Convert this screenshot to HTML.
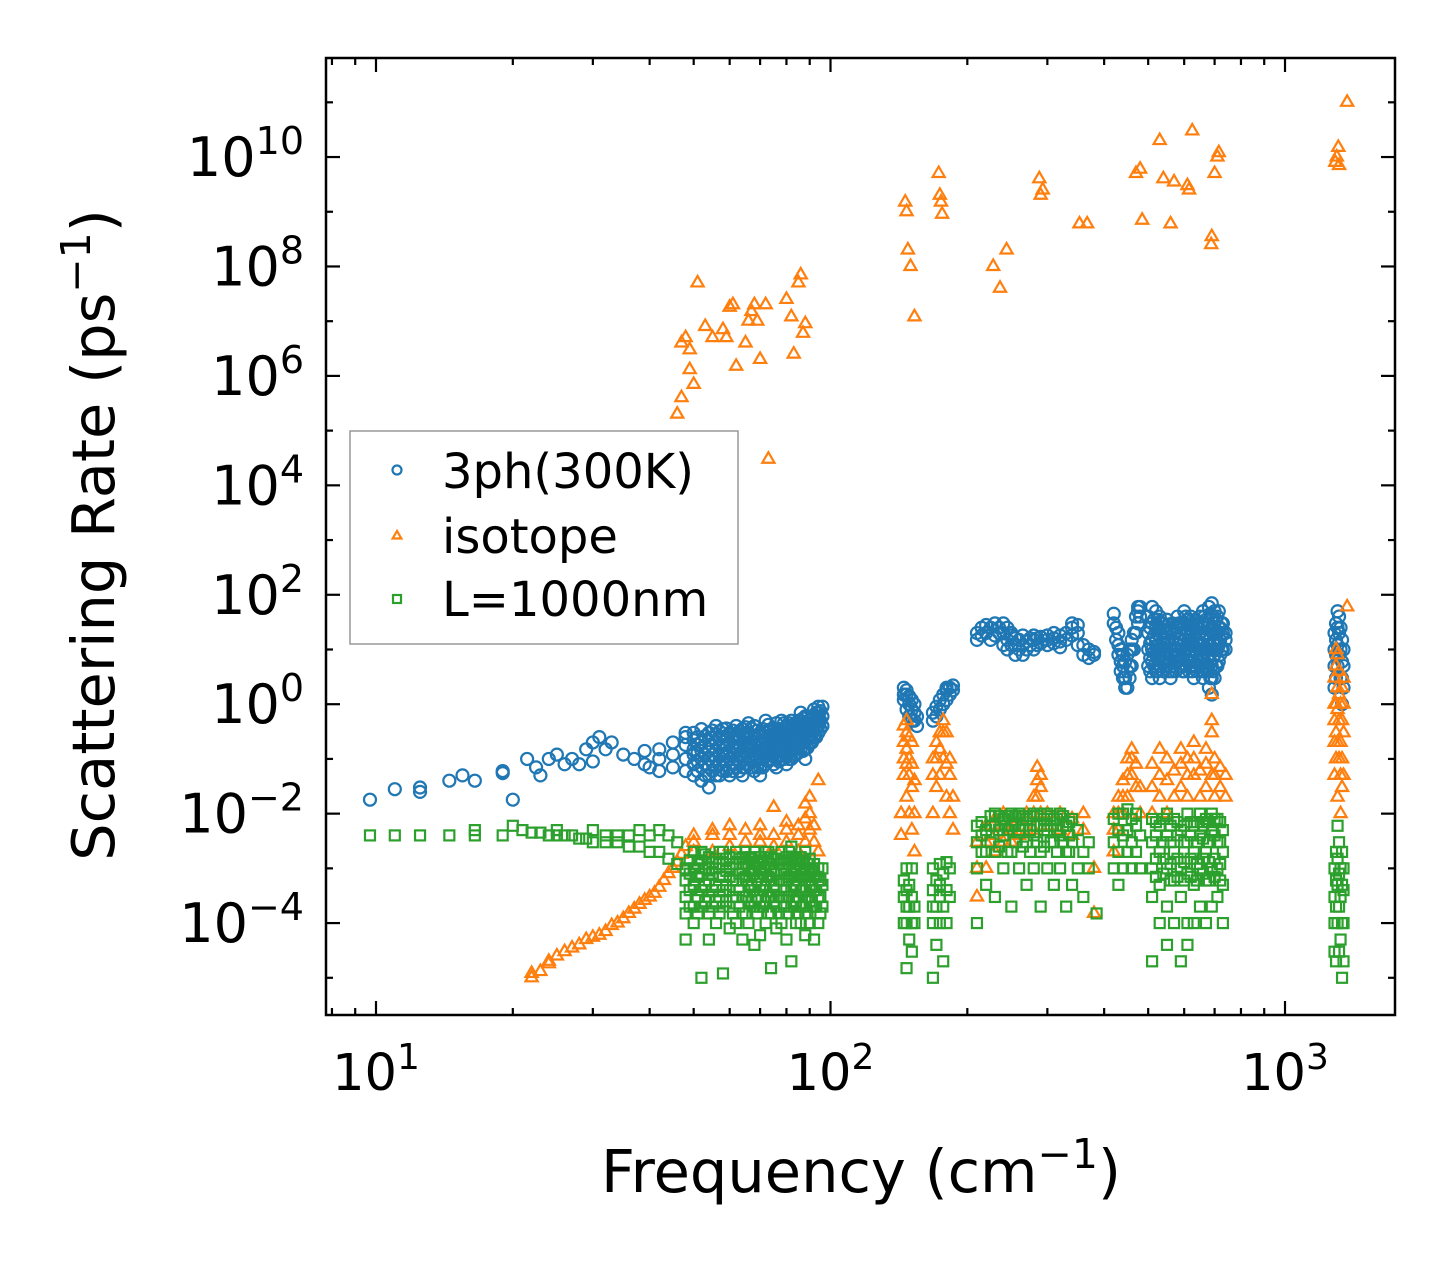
<!DOCTYPE html>
<html><head><meta charset="utf-8"><style>
html,body{margin:0;padding:0;background:#fff;}
svg{display:block;font-family:"DejaVu Sans","Liberation Sans",sans-serif;}
</style></head><body>
<svg id="chart" width="1455" height="1265" viewBox="0 0 1455 1265" xmlns="http://www.w3.org/2000/svg">
<rect x="0" y="0" width="1455" height="1265" fill="#fff"/>
<g id="marks"></g>
<g id="axes"></g>
<text x="861" y="1192" font-size="59" text-anchor="middle">Frequency (cm<tspan dy="-24" font-size="41">−1</tspan><tspan dy="24">)</tspan></text>
<text transform="translate(114,535) rotate(-90)" font-size="59" text-anchor="middle">Scattering Rate (ps<tspan dy="-24" font-size="41">−1</tspan><tspan dy="24">)</tspan></text>
<g>
<rect x="350" y="431" width="388" height="213" fill="#fff" stroke="#999" stroke-width="1.5"/>
<g id="legmarks"></g>
<text x="442" y="488" font-size="48">3ph(300K)</text>
<text x="442" y="553" font-size="48">isotope</text>
<text x="442" y="616" font-size="48">L=1000nm</text>
</g>
</svg>
<script>
const threePh=[[9.7,[0.018]],[11,[0.028]],[12.5,[0.03,0.025]],[14.5,[0.04]],[15.5,[0.05]],[16.5,[0.04]],[19,[0.06,0.055]],[20,[0.018]],[21.5,[0.1]],[22.5,[0.07]],[23,[0.05]],[24,[0.1]],[25,[0.12]],[26,[0.08]],[27,[0.1]],[28,[0.08]],[29,[0.15]],[30,[0.2,0.09]],[31,[0.25]],[32,[0.15]],[33,[0.2]],[35,[0.12]],[37,[0.1]],[39,[0.08,0.14]],[40,[0.07]],
[42,[0.06,0.1,0.15]],[45,[0.07,0.12,0.2]],[48,[0.06,0.1,0.18,0.25,0.3]],[50,[0.05,0.08,0.12,0.15,0.22,0.3]],[52,[0.04,0.07,0.1,0.14,0.2,0.35]],[54,[0.03,0.05,0.07,0.1,0.15,0.22,0.3]],[56,[0.05,0.07,0.1,0.14,0.2,0.28,0.4]],[58,[0.06,0.09,0.12,0.18,0.25,0.35]],[60,[0.05,0.07,0.1,0.14,0.2,0.3]],[62,[0.07,0.1,0.15,0.2,0.25,0.4]],[64,[0.05,0.07,0.1,0.14,0.2,0.28,0.35]],[66,[0.08,0.11,0.15,0.2,0.3,0.45]],[68,[0.06,0.09,0.12,0.18,0.25,0.4]],[70,[0.05,0.07,0.1,0.14,0.2,0.3]],[72,[0.08,0.11,0.15,0.22,0.3,0.5]],[74,[0.1,0.14,0.2,0.28,0.35]],[76,[0.07,0.1,0.15,0.22,0.3,0.45]],[78,[0.1,0.14,0.2,0.3,0.5]],[80,[0.08,0.11,0.15,0.2,0.25,0.4]],[82,[0.1,0.14,0.2,0.28,0.35,0.5]],[84,[0.12,0.18,0.25,0.32,0.4]],[86,[0.15,0.2,0.3,0.4,0.5,0.7]],[88,[0.1,0.15,0.2,0.3,0.4,0.6]],[90,[0.2,0.28,0.35,0.5]],[92,[0.25,0.32,0.4,0.6,0.8]],[94,[0.3,0.4,0.5,0.7,0.9]],[96,[0.4,0.6,0.9]],
[51,[0.06,0.09,0.13,0.18,0.25]],[53,[0.05,0.08,0.12,0.17,0.26]],[55,[0.06,0.09,0.12,0.17,0.24,0.33]],[57,[0.05,0.08,0.11,0.16,0.23,0.32]],[59,[0.06,0.09,0.13,0.18,0.26,0.36]],[61,[0.06,0.08,0.12,0.17,0.24,0.33]],[63,[0.06,0.09,0.12,0.17,0.23,0.32]],[65,[0.07,0.1,0.13,0.18,0.26,0.38]],[67,[0.07,0.1,0.14,0.19,0.27,0.36]],[69,[0.07,0.1,0.13,0.17,0.23,0.33]],[71,[0.07,0.1,0.13,0.18,0.25,0.35]],[73,[0.09,0.12,0.17,0.24,0.33,0.42]],[75,[0.08,0.12,0.17,0.25,0.33]],[77,[0.09,0.12,0.17,0.25,0.35]],[79,[0.1,0.13,0.18,0.25,0.35,0.45]],[81,[0.1,0.13,0.18,0.24,0.32,0.45]],[83,[0.11,0.16,0.22,0.3,0.42]],[85,[0.13,0.18,0.25,0.35,0.5]],[87,[0.14,0.2,0.27,0.38,0.55]],[89,[0.16,0.23,0.3,0.45,0.6]],[91,[0.2,0.28,0.38,0.55]],[93,[0.25,0.35,0.5,0.7]],[95,[0.35,0.5,0.75]],
[145,[1.2,2,1.5]],[147,[0.8,1.5,1.8]],[149,[0.6,1,1.4]],[151,[0.5,0.8,1.2]],[153,[0.5,0.7,1]],[155,[0.4,0.6]],
[168,[0.5,0.7]],[171,[0.6,0.9]],[174,[0.8,1.2]],[177,[1,1.5]],[180,[1.2,1.8,2]],[183,[1.5,2]],[186,[1.8,2.2]],
[210,[15,20]],[215,[18,25]],[220,[20,28]],[225,[15,25]],[230,[18,30]],[235,[20,25]],[240,[12,20,30]],[245,[10,15,25]],[250,[12,18,20]],[255,[8,12,16]],[260,[10,15]],[265,[8,12,18]],[270,[10,14]],[275,[12,16]],[280,[10,15,18]],[285,[12,16]],[290,[13,17]],[300,[12,15,18]],[310,[13,16,20]],[320,[11,14,18]],[330,[15,20]],[340,[18,25,30]],[350,[12,20,28]],[360,[8,12]],[370,[7,10]],[380,[8,9]],
[420,[30,45]],[425,[15,25]],[430,[8,12,20]],[435,[4,6,10]],[440,[3,5,8]],[445,[2,3,6]],[450,[2,4,8]],[455,[3,5,10]],[460,[5,10,15]],[465,[10,20]],[470,[20,40]],[475,[30,50,60]],[480,[40,60]],
[500,[5,10,20,40]],[510,[3,6,10,15,30,60]],[520,[4,8,15,25,50]],[530,[3,5,10,18,25,40]],[540,[4,8,15,30]],[550,[5,10,20,35]],[560,[3,6,12,25]],[570,[5,10,20]],[580,[6,12,25,40]],[590,[5,10,20,30]],[600,[4,8,15,30,50]],[610,[6,12,20,35]],[620,[5,10,20,40]],[630,[3,6,12,25]],[640,[4,8,15,30]],[650,[5,10,20,40]],[660,[3,7,15,30,50]],[670,[5,10,20,35]],[680,[2,4,8,15,30,60]],[690,[1.5,3,5,10,25,70]],[700,[3,8,15,30,50]],[710,[5,10,20,40]],[720,[8,15,25]],[730,[10,20,30]],[740,[10,15,20]],
[505,[4,7,13,25]],[515,[5,9,18,35]],[525,[4,7,12,22,35]],[535,[6,11,20,30]],[545,[5,7,12,22]],[555,[4,7,14,28]],[565,[4,8,15,30]],[575,[4,7,13,25]],[585,[5,8,16,30]],[595,[4,7,12,25]],[605,[5,10,18,40]],[615,[4,8,15,28]],[625,[4,7,14,30]],[635,[5,9,18,35]],[645,[6,12,25]],[655,[4,7,13,28]],[665,[5,9,18,40]],[675,[4,7,12,25]],[685,[3,6,12,22,45]],[695,[4,7,13,20,40]],[705,[5,10,20,35]],[715,[6,12,25,50]],[725,[10,18,30]],
[1285,[2,5,10,20]],[1295,[3,8,15,30]],[1305,[5,12,25,50]],[1315,[8,20,40]],[1325,[3,10,25]],[1335,[1,3,6,15]],[1345,[2,5,10]]];

const isotope=[[46,[2e5]],[47,[4e5,4e6]],[48,[5e6]],[49,[3e6,1.3e6]],[50,[7e5]],[51,[5e7]],[53,[8e6]],[55,[5e6]],[58,[7e6]],[59,[5e6]],[60,[1.8e7]],[61,[2e7]],[62,[1.5e6]],[65,[4e6]],[66,[1e7]],[67,[1.5e7]],[68,[2e7]],[69,[1e7]],[70,[2e6]],[72,[2e7]],[73,[3e4]],[80,[2.5e7]],[82,[1.2e7]],[83,[2.5e6]],[85,[5e7]],[86,[7e7]],[87,[6e6]],[88,[9e6]],[146,[1.5e9]],[147,[1e9]],[148,[2e8]],[150,[1e8]],[153,[1.2e7]],[173,[5e9]],[174,[2e9]],[175,[1.5e9]],[176,[9e8]],[228,[1e8]],[236,[4e7]],[244,[2e8]],[288,[4e9]],[290,[2e9]],[293,[2.5e9]],[353,[6e8]],[367,[6e8]],[470,[5e9]],[480,[6e9]],[485,[7e8]],[530,[2e10]],[540,[4e9]],[560,[6e8]],[570,[3.5e9]],[610,[3e9]],[615,[2.5e9]],[625,[3e10]],[700,[5e9]],[710,[1e10]],[715,[1.2e10]],[690,[3.5e8]],[688,[2.5e8]],[1290,[8e9]],[1300,[1e10]],[1310,[1.5e10]],[1315,[7e9]],[1370,[1e11]],
[22,[1e-5,1.2e-5]],[23,[1.3e-5]],[24,[1.8e-5,2e-5]],[25,[2.5e-5]],[26,[3e-5]],[27,[3.5e-5]],[28,[4e-5]],[29,[5e-5]],[30,[5.5e-5]],[31,[6e-5]],[32,[7e-5]],[33,[9e-5]],[34,[1e-4]],[35,[1.2e-4]],[36,[1.5e-4]],[37,[1.8e-4]],[38,[2.2e-4]],[39,[2.6e-4]],[40,[3e-4]],[41,[3.5e-4]],[42,[4.5e-4]],[43,[6e-4]],[44,[8e-4]],[45,[1e-3]],[46,[1.3e-3]],[47,[1.8e-3]],[48,[2.5e-3]],
[50,[2e-3,3e-3,4e-3]],[55,[2e-3,4e-3,5e-3]],[60,[2.5e-3,4e-3,6e-3]],[65,[3e-3,5e-3]],[70,[3e-3,4e-3,6e-3]],[75,[2.5e-3,4e-3,1.3e-2]],[80,[3e-3,5e-3,7e-3]],[85,[2e-3,4e-3,6e-3]],[88,[8e-3,1.5e-2,3e-3]],[90,[5e-3,1e-2,2e-2]],[92,[3e-3,6e-3]],[94,[4e-2,2e-3]],
[143,[0.01,0.004]],[145,[0.05,0.1,0.2,0.4]],[147,[0.02,0.08,0.15,0.3,0.5]],[149,[0.01,0.05,0.1,0.25]],[151,[0.005,0.03,0.08,0.2]],[153,[0.002,0.01,0.04]],
[168,[0.01,0.05,0.1]],[171,[0.03,0.1,0.2]],[174,[0.05,0.15,0.3]],[177,[0.1,0.3,0.5]],[180,[0.02,0.08,0.3]],[183,[0.01,0.05,0.1]],[186,[0.005,0.02]],
[210,[3e-4,1e-3,3e-3]],[220,[1e-3,3e-3,6e-3]],[230,[2e-3,4e-3,8e-3]],[240,[3e-3,6e-3,1e-2]],[250,[3e-3,5e-3]],[260,[4e-3,8e-3]],[270,[5e-3,1e-2]],[280,[5e-3,1e-2,2e-2]],[285,[0.02,0.04,0.07]],[290,[0.01,0.03,0.05]],[300,[6e-3,1e-2]],[320,[5e-3,1e-2]],[340,[4e-3,8e-3]],[360,[5e-3,1e-2]],[380,[1.5e-4,1e-3]],
[420,[2e-3,5e-3,1e-2]],[430,[5e-3,1e-2,2e-2]],[440,[1e-2,2e-2,4e-2]],[450,[0.02,0.05,0.1]],[460,[0.05,0.1,0.15]],[470,[0.03,0.08]],[480,[0.01,0.03]],
[510,[0.01,0.03,0.08]],[530,[0.02,0.05,0.15]],[550,[0.01,0.04,0.1]],[570,[0.02,0.06]],[590,[0.03,0.08,0.15]],[610,[0.02,0.05,0.1]],[630,[0.05,0.1,0.2]],[650,[0.02,0.06]],[670,[0.03,0.08,0.15]],[690,[0.05,0.3,0.5,1.5]],[700,[0.02,0.05,0.1]],[720,[0.03,0.07]],[740,[0.02,0.05]],
[1285,[0.05,0.2,0.5,1,3]],[1295,[0.1,0.3,1,5,10]],[1305,[0.02,0.2,0.8,2,8]],[1315,[0.1,0.5,1.5,4]],[1325,[0.01,0.05,0.2,1]],[1335,[0.03,0.1,0.5,2]],[1345,[0.05,0.3,1,3]],[1370,[60]]];

const boundary=[[9.7,[4e-3]],[11,[4e-3]],[12.5,[4e-3]],[14.5,[4e-3]],[16.5,[4e-3,5e-3]],[19,[4e-3]],[20,[6e-3]],[21,[5e-3]],[22,[4.5e-3]],[23,[4.5e-3]],[24,[4e-3]],[25,[5e-3,4e-3]],[26,[4e-3]],[27,[4e-3]],[28,[3.5e-3]],[29,[3.5e-3]],[30,[5e-3,3e-3]],[32,[3e-3,4e-3]],[34,[3e-3,4e-3]],[36,[2.5e-3,4e-3]],[38,[2.5e-3,5e-3]],[40,[2e-3,4e-3]],[42,[2e-3,5e-3]],[44,[1.5e-3,4e-3]],[46,[1.2e-3,3e-3]],
[48,[5e-5,1.5e-4,3e-4,6e-4,1e-3]],[50,[1e-4,2e-4,5e-4,1e-3,2e-3]],[52,[1e-5,2e-4,4e-4,8e-4,1.4e-3,2e-3]],[54,[5e-5,1.5e-4,3e-4,6e-4,1e-3,1.6e-3]],[56,[1e-4,2.5e-4,5e-4,1e-3,1.5e-3]],[58,[1.2e-5,2e-4,4e-4,7e-4,1.2e-3,2e-3]],[60,[8e-5,2e-4,4e-4,7e-4,1e-3,1.6e-3]],[62,[1e-4,3e-4,6e-4,1.2e-3,2e-3]],[64,[5e-5,1.5e-4,3e-4,6e-4,1e-3,1.6e-3]],[66,[1e-4,2.5e-4,5e-4,1e-3,1.5e-3]],[68,[4e-5,2e-4,4e-4,8e-4,1.3e-3,2e-3]],[70,[6e-5,2e-4,4e-4,7e-4,1e-3,1.6e-3]],[72,[1e-4,2.5e-4,5e-4,1e-3,2e-3]],[74,[1.5e-5,1.5e-4,3e-4,6e-4,1e-3,1.6e-3]],[76,[8e-5,2e-4,4e-4,8e-4,1.5e-3]],[78,[1e-4,3e-4,6e-4,1.2e-3,2e-3]],[80,[5e-5,1.5e-4,3e-4,6e-4,1e-3,1.6e-3]],[82,[2e-5,2e-4,4e-4,8e-4,1.4e-3,2.5e-3]],[84,[1e-4,2.5e-4,5e-4,1e-3,1.5e-3]],[86,[1e-4,2e-4,4e-4,7e-4,1e-3,1.6e-3]],[88,[6e-5,1.5e-4,3e-4,6e-4,1e-3,2e-3]],[90,[1e-4,2.5e-4,5e-4,1e-3,1.5e-3]],[92,[5e-5,2e-4,4e-4,8e-4,1.2e-3]],[94,[1e-4,3e-4,6e-4,1e-3]],[96,[2e-4,5e-4,1e-3]],
[49,[2e-4,4e-4,8e-4,1.4e-3]],[51,[1.5e-4,3e-4,7e-4,1.2e-3]],[53,[2.5e-4,5e-4,1e-3,1.8e-3]],[55,[2e-4,4e-4,8e-4,1.3e-3]],[57,[1.5e-4,3e-4,7e-4,1.2e-3,2e-3]],[59,[2.5e-4,5e-4,9e-4,1.5e-3]],[61,[1.5e-4,3e-4,6e-4,1.2e-3]],[63,[2e-4,4e-4,8e-4,1.5e-3]],[65,[1.5e-4,3e-4,7e-4,1.2e-3,2e-3]],[67,[2.5e-4,5e-4,9e-4,1.6e-3]],[69,[1.5e-4,3e-4,6e-4,1.2e-3]],[71,[2e-4,4e-4,8e-4,1.4e-3]],[73,[1.5e-4,3e-4,7e-4,1.2e-3,2e-3]],[75,[2.5e-4,5e-4,9e-4,1.5e-3]],[77,[1.5e-4,3e-4,6e-4,1.2e-3]],[79,[2e-4,4e-4,8e-4,1.4e-3]],[81,[1.5e-4,3e-4,7e-4,1.2e-3,2e-3]],[83,[2.5e-4,5e-4,9e-4,1.6e-3]],[85,[1.5e-4,3e-4,6e-4,1.2e-3]],[87,[2e-4,4e-4,8e-4,1.4e-3]],[89,[1.5e-4,3e-4,7e-4,1.2e-3]],[91,[2.5e-4,5e-4,9e-4]],[93,[2e-4,4e-4,7e-4]],[95,[1.5e-4,3e-4,6e-4]],
[145,[1e-4,3e-4,6e-4]],[147,[1.5e-5,1e-4,2e-4,4e-4,1e-3]],[149,[5e-5,2e-4,5e-4]],[151,[3e-5,1e-4,3e-4,1e-3]],[153,[1e-4,2e-4]],
[168,[1e-5,1e-4,2e-4,4e-4,1e-3]],[171,[4e-5,2e-4,6e-4]],[174,[1e-4,3e-4,5e-4,1.2e-3]],[177,[2e-5,2e-4,8e-4]],[180,[1e-4,4e-4,1.3e-3]],[183,[3e-4,1e-3]],
[210,[1e-4,1e-3,3e-3,6e-3]],[220,[5e-4,2e-3,5e-3]],[230,[3e-4,2e-3,6e-3,1e-2]],[240,[1e-3,4e-3,8e-3]],[250,[2e-4,2e-3,6e-3,1e-2]],[260,[1e-3,5e-3,1e-2]],[270,[5e-4,3e-3,8e-3]],[280,[1e-3,4e-3,1e-2]],[290,[2e-4,2e-3,6e-3,1e-2]],[300,[1e-3,5e-3,1e-2]],[310,[5e-4,3e-3,8e-3]],[320,[1e-3,4e-3,1e-2]],[330,[2e-4,2e-3,6e-3]],[340,[5e-4,3e-3,8e-3]],[350,[1e-3,5e-3]],[360,[3e-4,2e-3]],[370,[1e-3,3e-3]],[385,[1.5e-4]],
[215,[2e-3,4e-3,7e-3]],[225,[3e-3,6e-3,9e-3]],[235,[2.5e-3,5e-3,9e-3]],[245,[2e-3,5e-3,9e-3]],[255,[3e-3,6e-3,9e-3]],[265,[2.5e-3,6e-3,9e-3]],[275,[2e-3,5e-3,9e-3]],[285,[3e-3,6e-3,9e-3]],[295,[2.5e-3,5e-3,8e-3]],[305,[3e-3,6e-3,9e-3]],[315,[2e-3,5e-3,8e-3]],[325,[3e-3,6e-3,9e-3]],[335,[2e-3,4e-3,7e-3]],
[420,[1e-3,3e-3,8e-3]],[430,[5e-4,2e-3,5e-3,1e-2]],[440,[1e-3,4e-3,1e-2]],[450,[2e-3,5e-3,1.2e-2]],[460,[1e-3,3e-3,8e-3]],[470,[2e-3,6e-3,1e-2]],[480,[1e-3,4e-3]],
[510,[2e-5,3e-4,1e-3,3e-3,8e-3]],[530,[1e-4,5e-4,2e-3,6e-3]],[550,[4e-5,2e-4,1e-3,4e-3,1e-2]],[570,[1e-4,6e-4,2e-3,8e-3]],[590,[2e-5,3e-4,1e-3,5e-3]],[610,[4e-5,1e-4,8e-4,3e-3,1e-2]],[630,[1e-4,5e-4,2e-3,6e-3]],[650,[2e-4,1e-3,4e-3,1e-2]],[670,[1e-4,6e-4,2e-3,8e-3]],[690,[2e-4,1e-3,5e-3,1e-2]],[710,[3e-4,1e-3,3e-3,8e-3]],[730,[1e-4,5e-4,2e-3,5e-3]],
[520,[7e-4,1.5e-3,4e-3,7e-3]],[540,[8e-4,1.5e-3,3e-3,8e-3]],[560,[6e-4,1.2e-3,3e-3,6e-3]],[580,[7e-4,1.5e-3,4e-3,7e-3]],[600,[6e-4,1.3e-3,3e-3,6e-3]],[620,[7e-4,1.5e-3,4e-3,7e-3]],[640,[6e-4,1.2e-3,3e-3,7e-3]],[660,[8e-4,1.5e-3,3.5e-3,6e-3]],[680,[6e-4,1.3e-3,3e-3,7e-3]],[700,[7e-4,1.5e-3,4e-3,8e-3]],[720,[6e-4,1.2e-3,3e-3,7e-3]],
[1285,[3e-5,1e-4,3e-4,1e-3]],[1295,[2e-5,2e-4,6e-4,2e-3]],[1305,[1e-4,5e-4,1.5e-3,6e-3]],[1315,[3e-5,2e-4,8e-4,3e-3]],[1325,[5e-5,3e-4,1e-3]],[1335,[1e-5,1e-4,5e-4,2e-3]],[1345,[2e-5,1e-4,4e-4,1e-3]]];

const xTickLabels=["1","2","3"];
const yTickExps=[-4,-2,0,2,4,6,8,10];

const NS="http://www.w3.org/2000/svg";
const L=326,R=1395,T=58,B=1015;
const X0=0.89,X1=3.242,Y0=-5.68,Y1=11.81;
function sx(f){return L+(Math.log10(f)-X0)/(X1-X0)*(R-L);}
function sy(r){return B-(Math.log10(r)-Y0)/(Y1-Y0)*(B-T);}
function mk(tag,attrs,parent){const e=document.createElementNS(NS,tag);for(const k in attrs)e.setAttribute(k,attrs[k]);parent.appendChild(e);return e;}
const marks=document.getElementById('marks');
const COL={b:"#1f77b4",o:"#ff7f0e",g:"#2ca02c"};
function circle(x,y,p,s){return mk('circle',{cx:x,cy:y,r:s,fill:'none',stroke:COL.b,'stroke-width':2.2},p);}
function tri(x,y,p,s){return mk('polygon',{points:`${x},${y-s} ${x-s*0.87},${y+s*0.5} ${x+s*0.87},${y+s*0.5}`,fill:'none',stroke:COL.o,'stroke-width':2.2},p);}
function sq(x,y,p,s){return mk('rect',{x:x-s,y:y-s,width:2*s,height:2*s,fill:'none',stroke:COL.g,'stroke-width':2.2},p);}
const gB=mk('g',{},marks);
const gO=mk('g',{},marks);
const gG=mk('g',{},marks);
threePh.forEach(([f,rs])=>rs.forEach(r=>{const e=circle(sx(f),sy(r),gB,6);

}));
isotope.forEach(([f,rs])=>rs.forEach(r=>{const e=tri(sx(f),sy(r),gO,7);

}));
boundary.forEach(([f,rs])=>rs.forEach(r=>{const e=sq(sx(f),sy(r),gG,5);

}));

const axes=document.getElementById('axes');
mk('rect',{x:L,y:T,width:R-L,height:B-T,fill:'none',stroke:'#000','stroke-width':2.5},axes);
for(let d=0;d<=3;d++){for(let m=1;m<10;m++){const f=m*Math.pow(10,d);const lg=Math.log10(f);if(lg<X0||lg>X1)continue;const x=sx(f);const len=m===1?14:7;
mk('line',{x1:x,y1:B,x2:x,y2:B-len,stroke:'#000','stroke-width':2.2},axes);
mk('line',{x1:x,y1:T,x2:x,y2:T+len,stroke:'#000','stroke-width':2.2},axes);}}
xTickLabels.forEach(e=>{const x=sx(Math.pow(10,+e));const t=mk('text',{x:x,y:1090,'font-size':51,'text-anchor':'middle'},axes);


t.innerHTML=`10<tspan dy="-21" font-size="36">${e}</tspan>`;});
for(let e=-5;e<=11;e++){const y=sy(Math.pow(10,e));const len=(e%2===0)?14:7;
mk('line',{x1:L,y1:y,x2:L+len,y2:y,stroke:'#000','stroke-width':2.2},axes);
mk('line',{x1:R,y1:y,x2:R-len,y2:y,stroke:'#000','stroke-width':2.2},axes);}
yTickExps.forEach(e=>{const y=sy(Math.pow(10,e));const t=mk('text',{x:304,y:y+19,'font-size':54,'text-anchor':'end'},axes);


const lab=e<0?'−'+(-e):''+e;t.innerHTML=`10<tspan dy="-22" font-size="38">${lab}</tspan>`;});
const lm=document.getElementById('legmarks');
const a=circle(397,470,lm,4.5);
const b=tri(397,536,lm,5);
const c=sq(397,599,lm,4);
</script>
</body></html>
